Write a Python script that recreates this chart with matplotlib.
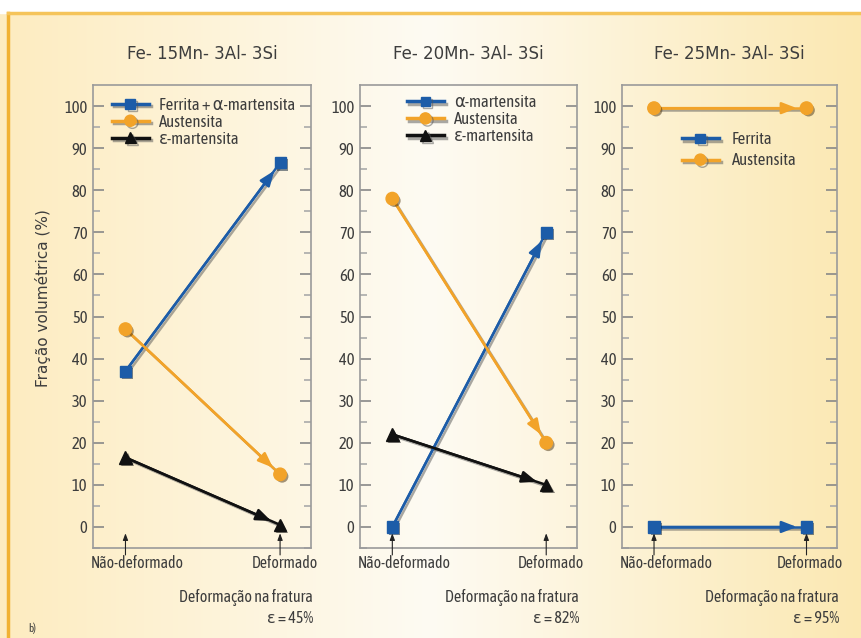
import numpy as np
import matplotlib.pyplot as plt
import matplotlib.patheffects as pe
from matplotlib.lines import Line2D

plt.rcParams['font.family'] = ['Asap Condensed', 'DejaVu Sans']

# dados: fração volumétrica (%) antes e depois da deformação
estados = ['Não-deformado', 'Deformado']
ligas = ['Fe- 15Mn- 3Al- 3Si', 'Fe- 20Mn- 3Al- 3Si', 'Fe- 25Mn- 3Al- 3Si']
deformacao = ['ε = 45%', 'ε = 82%', 'ε = 95%']

nomes_azul = ['Ferrita + α-martensita', 'α-martensita', 'Ferrita']
azul = [[37, 86.5], [0, 70], [0, 0]]
austenita = [[47, 12.5], [78, 20], [99.5, 99.5]]
eps_mart = [[16.5, 0.5], [22, 10], None]

AZUL = '#1c5ca8'
LARANJA = '#f2a329'
PRETO = '#111111'
TEXTO = '#3d3d3d'

fig = plt.figure(figsize=(8.61, 6.38), dpi=100)

# fundo em degradê
bg = fig.add_axes([0, 0, 1, 1], zorder=-10)
xs = np.linspace(0, 1, 300)
c_esq = np.array([253, 236, 192]) / 255
c_meio = np.array([254, 251, 243]) / 255
c_dir = np.array([251, 232, 178]) / 255
t = np.clip(xs / 0.5, 0, 1)[:, None]
u = np.clip((xs - 0.5) / 0.5, 0, 1)[:, None]
cols = np.where(xs[:, None] < 0.5, c_esq * (1 - t) + c_meio * t, c_meio * (1 - u) + c_dir * u)
img = np.tile(cols[None, :, :], (2, 1, 1))
bg.imshow(img, extent=[0, 1, 0, 1], aspect='auto', origin='lower')
bg.fill_between([0, 1], 1 - 13 / 638, 1, color='white', zorder=2)
bg.plot([8 / 861, 8 / 861], [0, 1 - 13 / 638], color='#f1b233', lw=2.5, zorder=3)
bg.plot([8 / 861, 1], [1 - 13 / 638, 1 - 13 / 638], color='#f5c45a', lw=2.5, zorder=3)
bg.set_xlim(0, 1)
bg.set_ylim(0, 1)
bg.axis('off')
bg.text(28 / 861, 1 - 628 / 638, 'b)', fontsize=8, color=TEXTO, va='center')

sombra = [pe.SimpleLineShadow(offset=(1.5, -1.5), shadow_color='#555555', alpha=0.5), pe.Normal()]

posicoes = [(93, 218), (360, 217), (622, 215)]
# canto superior esquerdo de cada legenda (fração dos eixos)
legendas = [(0.087, 0.975), (0.217, 0.98), (0.279, 0.9)]
for i, (x0, w) in enumerate(posicoes):
    ax = fig.add_axes([x0 / 861, 1 - 548 / 638, w / 861, (548 - 85) / 638])
    ax.set_facecolor('none')
    ax.set_xlim(-0.21, 1.2)
    ax.set_ylim(-5, 105)
    ax.set_xticks([])
    ax.set_yticks(np.arange(0, 101, 10))
    ax.set_yticks(np.arange(-5, 105, 5), minor=True)
    ax.tick_params(axis='y', which='both', direction='in', right=True, colors='#888888',
                   labelcolor=TEXTO, labelsize=12, width=1.2, pad=4)
    ax.tick_params(axis='y', which='major', length=8)
    ax.tick_params(axis='y', which='minor', length=5, color='#aaaaaa')
    for s in ax.spines.values():
        s.set_color('#9a9a9a')
        s.set_linewidth(1.2)

    series = [(nomes_azul[i], azul[i], AZUL, 's', 8),
              ('Austensita', austenita[i], LARANJA, 'o', 9)]
    if eps_mart[i] is not None:
        series.append(('ε-martensita', eps_mart[i], PRETO, '^', 9))

    handles = []
    for nome, vals, cor, mk, ms in series:
        ax.plot([0, 1], vals, color=cor, lw=1.8, path_effects=sombra, zorder=3)
        ax.annotate('', xy=(1, vals[1]), xytext=(0, vals[0]),
                    arrowprops=dict(arrowstyle='-|>,head_length=0.9,head_width=0.35',
                                    color=cor, lw=1.8, shrinkA=0, shrinkB=7), zorder=4)
        ax.plot([0, 1], vals, ls='none', marker=mk, ms=ms, color=cor, mec=cor,
                path_effects=[pe.SimplePatchShadow(offset=(1.5, -1.5), alpha=0.5), pe.Normal()],
                zorder=5)
        handles.append(Line2D([], [], color=cor, lw=2.5, marker=mk, ms=ms - 1, label=nome,
                              path_effects=sombra))

    lx, ly = legendas[i]
    leg = ax.legend(handles=handles, loc='upper left', bbox_to_anchor=(lx, ly),
                    frameon=False, fontsize=12, handlelength=2.2,
                    labelspacing=0.0 if i < 2 else 0.25,
                    handletextpad=0.6 if i < 2 else 0.8, borderaxespad=0, borderpad=0)
    for txt in leg.get_texts():
        txt.set_color(TEXTO)

    # pequenas setas indicando os estados
    for xv in [0, 1]:
        ax.annotate('', xy=(xv, -1.5), xycoords='data',
                    xytext=(xv, -0.015), textcoords=('data', 'axes fraction'),
                    arrowprops=dict(arrowstyle='-|>,head_length=0.4,head_width=0.15',
                                    color='#222222', lw=0.8, shrinkA=0, shrinkB=0),
                    annotation_clip=False)

    ax.text(-0.01, -0.033, estados[0], transform=ax.transAxes, ha='left', va='center',
            fontsize=11.3, color=TEXTO)
    ax.text(1.03, -0.033, estados[1], transform=ax.transAxes, ha='right', va='center',
            fontsize=11.3, color=TEXTO)
    ax.text(1.01, -0.106, 'Deformação na fratura', transform=ax.transAxes, ha='right',
            va='center', fontsize=11.5, color=TEXTO)
    ax.text(1.01, -0.153, deformacao[i], transform=ax.transAxes, ha='right',
            va='center', fontsize=11.5, color=TEXTO)
    ax.set_title(ligas[i], fontsize=12, color=TEXTO, pad=19, family='DejaVu Sans')

fig.text(43 / 861, 1 - 298 / 638, 'Fração volumétrica (%)', rotation=90, ha='center',
         va='center', fontsize=11, color=TEXTO, family='DejaVu Sans')

fig.savefig('out.png', dpi=100)
